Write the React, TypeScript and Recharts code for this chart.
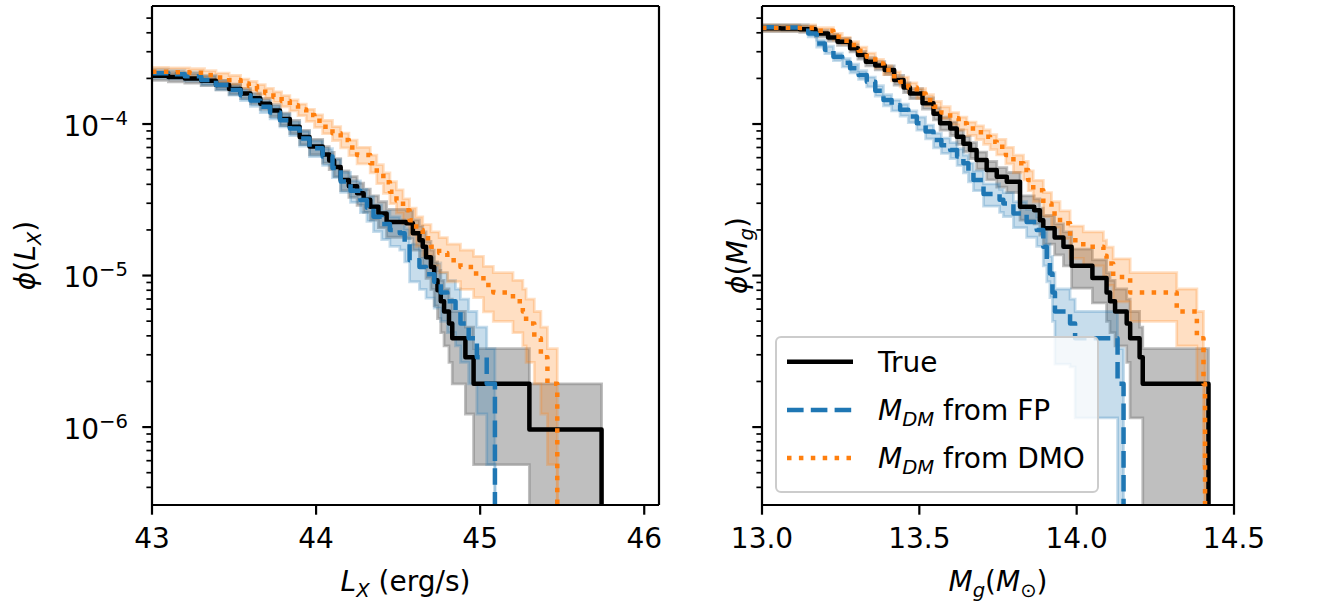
import React from 'react';
import { ComposedChart, Line, Area, XAxis, YAxis, Label, Legend, ReferenceLine } from 'recharts';

const FONT = '"DejaVu Sans", "Liberation Sans", sans-serif';
const FS = 28;
const SUB = 19.6;

const GRAY = '#808080';
const BLUE = '#1f77b4';
const ORANGE = '#ff7f0e';

// stands in for zero: lies below the log axis, so the step drops off the plot
const FLOOR = 1e-9;

const Y_DOMAIN = [3.06e-7, 6.01e-4];
const Y_MAJOR = [1e-6, 1e-5, 1e-4];
const Y_TICKS = [
  4e-7, 5e-7, 6e-7, 7e-7, 8e-7, 9e-7,
  1e-6, 2e-6, 3e-6, 4e-6, 5e-6, 6e-6, 7e-6, 8e-6, 9e-6,
  1e-5, 2e-5, 3e-5, 4e-5, 5e-5, 6e-5, 7e-5, 8e-5, 9e-5,
  1e-4, 2e-4, 3e-4, 4e-4, 5e-4,
];

const LX_DOMAIN = [43, 46.09];
const LX_TICKS = [43, 44, 45, 46];
const MG_DOMAIN = [13, 14.5];
const MG_TICKS = [13, 13.5, 14, 14.5];

// ---- left panel: L_X ----
const LX_TRUE_X = [43.0, 43.1, 43.2, 43.3, 43.39, 43.47, 43.54, 43.6, 43.66, 43.72, 43.78, 43.84, 43.9, 43.96, 44.04, 44.08, 44.11, 44.15, 44.2, 44.25, 44.29, 44.33, 44.38, 44.43, 44.55, 44.59, 44.63, 44.65, 44.67, 44.7, 44.72, 44.74, 44.76, 44.78, 44.81, 44.83, 44.91, 44.96, 45.3, 45.74];
const LX_TRUE_Y = [2.08e-4, 2.04e-4, 2.0e-4, 1.93e-4, 1.81e-4, 1.7e-4, 1.59e-4, 1.48e-4, 1.36e-4, 1.23e-4, 1.08e-4, 9.6e-5, 8.2e-5, 7.1e-5, 6.3e-5, 5.75e-5, 5.2e-5, 4.27e-5, 3.89e-5, 3.49e-5, 3.16e-5, 2.84e-5, 2.57e-5, 2.26e-5, 2.21e-5, 1.9e-5, 1.71e-5, 1.55e-5, 1.32e-5, 1.14e-5, 9.3e-6, 8.0e-6, 6.76e-6, 5.79e-6, 4.82e-6, 3.86e-6, 2.89e-6, 1.93e-6, 9.65e-7, FLOOR];
const LX_TRUE_LO = [1.94e-4, 1.9e-4, 1.86e-4, 1.79e-4, 1.68e-4, 1.57e-4, 1.47e-4, 1.36e-4, 1.25e-4, 1.12e-4, 9.78e-5, 8.64e-5, 7.31e-5, 6.27e-5, 5.52e-5, 5.01e-5, 4.49e-5, 3.63e-5, 3.28e-5, 2.91e-5, 2.61e-5, 2.32e-5, 2.07e-5, 1.79e-5, 1.75e-5, 1.47e-5, 1.3e-5, 1.16e-5, 9.6e-6, 8.1e-6, 6.3e-6, 5.2e-6, 4.2e-6, 3.43e-6, 2.67e-6, 1.93e-6, 1.22e-6, 5.65e-7, FLOOR, FLOOR];
const LX_TRUE_HI = [2.22e-4, 2.18e-4, 2.14e-4, 2.07e-4, 1.94e-4, 1.83e-4, 1.71e-4, 1.6e-4, 1.47e-4, 1.34e-4, 1.18e-4, 1.056e-4, 9.09e-5, 7.93e-5, 7.08e-5, 6.49e-5, 5.91e-5, 4.91e-5, 4.5e-5, 4.07e-5, 3.71e-5, 3.36e-5, 3.07e-5, 2.73e-5, 2.67e-5, 2.33e-5, 2.12e-5, 1.94e-5, 1.68e-5, 1.47e-5, 1.23e-5, 1.08e-5, 9.3e-6, 8.15e-6, 6.98e-6, 5.79e-6, 4.56e-6, 3.29e-6, 1.93e-6, FLOOR];

const LX_FP_X = [43.0, 43.1, 43.2, 43.3, 43.39, 43.47, 43.54, 43.6, 43.66, 43.72, 43.78, 43.84, 43.9, 43.96, 44.04, 44.1, 44.15, 44.21, 44.27, 44.31, 44.35, 44.4, 44.45, 44.51, 44.54, 44.57, 44.63, 44.67, 44.72, 44.76, 44.8, 44.85, 44.88, 44.93, 44.98, 45.04, 45.09];
const LX_FP_Y = [2.16e-4, 2.13e-4, 2.07e-4, 1.95e-4, 1.81e-4, 1.68e-4, 1.55e-4, 1.43e-4, 1.3e-4, 1.19e-4, 1.06e-4, 9.33e-5, 8.04e-5, 6.92e-5, 6.1e-5, 5.13e-5, 4.17e-5, 3.63e-5, 3.15e-5, 2.8e-5, 2.44e-5, 2.19e-5, 2.0e-5, 1.9e-5, 1.63e-5, 1.26e-5, 1.14e-5, 1.02e-5, 9.1e-6, 7.72e-6, 6.76e-6, 5.79e-6, 4.82e-6, 3.86e-6, 2.89e-6, 1.93e-6, FLOOR];
const LX_FP_LO = [2.02e-4, 1.99e-4, 1.93e-4, 1.81e-4, 1.68e-4, 1.55e-4, 1.43e-4, 1.31e-4, 1.19e-4, 1.08e-4, 9.59e-5, 8.38e-5, 7.16e-5, 6.1e-5, 5.33e-5, 4.43e-5, 3.54e-5, 3.04e-5, 2.6e-5, 2.28e-5, 1.95e-5, 1.73e-5, 1.56e-5, 1.47e-5, 1.23e-5, 9.1e-6, 8.1e-6, 7.1e-6, 6.1e-6, 4.99e-6, 4.2e-6, 3.43e-6, 2.67e-6, 1.93e-6, 1.22e-6, 5.65e-7, FLOOR];
const LX_FP_HI = [2.3e-4, 2.27e-4, 2.21e-4, 2.09e-4, 1.94e-4, 1.81e-4, 1.67e-4, 1.55e-4, 1.41e-4, 1.3e-4, 1.16e-4, 1.028e-4, 8.92e-5, 7.74e-5, 6.87e-5, 5.83e-5, 4.8e-5, 4.22e-5, 3.7e-5, 3.32e-5, 2.93e-5, 2.65e-5, 2.44e-5, 2.33e-5, 2.03e-5, 1.61e-5, 1.47e-5, 1.33e-5, 1.21e-5, 1.045e-5, 9.3e-6, 8.15e-6, 6.98e-6, 5.79e-6, 4.56e-6, 3.29e-6, FLOOR];

const LX_DMO_X = [43.0, 43.1, 43.23, 43.32, 43.39, 43.47, 43.54, 43.59, 43.64, 43.69, 43.74, 43.79, 43.84, 43.89, 43.94, 43.99, 44.04, 44.1, 44.15, 44.2, 44.25, 44.33, 44.37, 44.41, 44.45, 44.49, 44.53, 44.57, 44.61, 44.65, 44.7, 44.75, 44.8, 44.88, 44.96, 45.02, 45.08, 45.2, 45.26, 45.28, 45.33, 45.37, 45.41, 45.47];
const LX_DMO_Y = [2.21e-4, 2.2e-4, 2.18e-4, 2.11e-4, 2.03e-4, 1.95e-4, 1.85e-4, 1.78e-4, 1.69e-4, 1.6e-4, 1.51e-4, 1.42e-4, 1.33e-4, 1.245e-4, 1.145e-4, 1.05e-4, 9.6e-5, 8.7e-5, 7.83e-5, 7.0e-5, 6.24e-5, 5.5e-5, 4.72e-5, 4.12e-5, 3.57e-5, 3.13e-5, 2.7e-5, 2.32e-5, 2.0e-5, 1.76e-5, 1.55e-5, 1.41e-5, 1.26e-5, 1.14e-5, 1.03e-5, 8.65e-6, 7.72e-6, 6.76e-6, 5.79e-6, 4.82e-6, 3.86e-6, 2.89e-6, 1.93e-6, FLOOR];
const LX_DMO_LO = [2.06e-4, 2.05e-4, 2.04e-4, 1.97e-4, 1.89e-4, 1.81e-4, 1.72e-4, 1.65e-4, 1.56e-4, 1.48e-4, 1.39e-4, 1.3e-4, 1.22e-4, 1.135e-4, 1.04e-4, 9.49e-5, 8.64e-5, 7.78e-5, 6.96e-5, 6.18e-5, 5.46e-5, 4.77e-5, 4.04e-5, 3.49e-5, 2.98e-5, 2.58e-5, 2.19e-5, 1.85e-5, 1.56e-5, 1.35e-5, 1.16e-5, 1.04e-5, 9.1e-6, 8.1e-6, 7.15e-6, 5.76e-6, 4.99e-6, 4.2e-6, 3.43e-6, 2.67e-6, 1.93e-6, 1.22e-6, 5.65e-7, FLOOR];
const LX_DMO_HI = [2.36e-4, 2.35e-4, 2.32e-4, 2.25e-4, 2.17e-4, 2.09e-4, 1.98e-4, 1.91e-4, 1.82e-4, 1.72e-4, 1.63e-4, 1.54e-4, 1.44e-4, 1.355e-4, 1.25e-4, 1.15e-4, 1.056e-4, 9.62e-5, 8.7e-5, 7.82e-5, 7.02e-5, 6.23e-5, 5.39e-5, 4.75e-5, 4.16e-5, 3.68e-5, 3.21e-5, 2.79e-5, 2.44e-5, 2.17e-5, 1.94e-5, 1.78e-5, 1.61e-5, 1.47e-5, 1.34e-5, 1.15e-5, 1.045e-5, 9.3e-6, 8.15e-6, 6.98e-6, 5.79e-6, 4.56e-6, 3.29e-6, FLOOR];

// ---- right panel: M_g ----
const MG_TRUE_X = [13.0, 13.06, 13.12, 13.17, 13.21, 13.24, 13.28, 13.305, 13.33, 13.36, 13.39, 13.42, 13.45, 13.47, 13.51, 13.545, 13.566, 13.598, 13.619, 13.64, 13.661, 13.682, 13.714, 13.746, 13.778, 13.82, 13.865, 13.883, 13.894, 13.93, 13.958, 13.984, 14.05, 14.095, 14.106, 14.122, 14.159, 14.17, 14.2, 14.21, 14.419];
const MG_TRUE_Y = [4.28e-4, 4.27e-4, 4.22e-4, 3.96e-4, 3.72e-4, 3.49e-4, 3.16e-4, 2.85e-4, 2.58e-4, 2.43e-4, 2.27e-4, 1.95e-4, 1.74e-4, 1.59e-4, 1.37e-4, 1.17e-4, 1.01e-4, 9.35e-5, 8.24e-5, 7.41e-5, 6.73e-5, 5.78e-5, 4.97e-5, 4.49e-5, 4.16e-5, 2.84e-5, 2.7e-5, 2.32e-5, 2.05e-5, 1.78e-5, 1.55e-5, 1.16e-5, 9.65e-6, 7.72e-6, 6.76e-6, 5.79e-6, 4.82e-6, 3.86e-6, 2.89e-6, 1.93e-6, FLOOR];
const MG_TRUE_LO = [4.08e-4, 4.07e-4, 4.02e-4, 3.76e-4, 3.53e-4, 3.31e-4, 2.99e-4, 2.68e-4, 2.42e-4, 2.28e-4, 2.12e-4, 1.81e-4, 1.61e-4, 1.47e-4, 1.255e-4, 1.064e-4, 9.11e-5, 8.4e-5, 7.35e-5, 6.56e-5, 5.92e-5, 5.03e-5, 4.28e-5, 3.83e-5, 3.53e-5, 2.32e-5, 2.19e-5, 1.85e-5, 1.61e-5, 1.37e-5, 1.16e-5, 8.25e-6, 6.6e-6, 4.99e-6, 4.2e-6, 3.43e-6, 2.67e-6, 1.15e-6, 1.15e-6, FLOOR, FLOOR];
const MG_TRUE_HI = [4.48e-4, 4.47e-4, 4.42e-4, 4.16e-4, 3.91e-4, 3.67e-4, 3.33e-4, 3.02e-4, 2.74e-4, 2.58e-4, 2.42e-4, 2.09e-4, 1.87e-4, 1.71e-4, 1.485e-4, 1.28e-4, 1.109e-4, 1.03e-4, 9.13e-5, 8.26e-5, 7.54e-5, 6.53e-5, 5.66e-5, 5.15e-5, 4.79e-5, 3.36e-5, 3.21e-5, 2.79e-5, 2.49e-5, 2.19e-5, 1.94e-5, 1.495e-5, 1.27e-5, 1.045e-5, 9.3e-6, 8.15e-6, 6.98e-6, 5.79e-6, 4.56e-6, 3.29e-6, FLOOR];

const MG_FP_X = [13.0, 13.06, 13.12, 13.147, 13.174, 13.2, 13.227, 13.255, 13.28, 13.307, 13.333, 13.36, 13.386, 13.412, 13.439, 13.465, 13.492, 13.52, 13.545, 13.57, 13.598, 13.62, 13.64, 13.656, 13.672, 13.704, 13.755, 13.767, 13.799, 13.841, 13.873, 13.894, 13.905, 13.915, 13.923, 13.931, 13.979, 13.995, 14.13, 14.149];
const MG_FP_Y = [4.35e-4, 4.34e-4, 4.32e-4, 3.96e-4, 3.4e-4, 3.09e-4, 2.78e-4, 2.54e-4, 2.33e-4, 2.11e-4, 1.9e-4, 1.66e-4, 1.44e-4, 1.33e-4, 1.24e-4, 1.12e-4, 1.01e-4, 8.91e-5, 7.83e-5, 7.24e-5, 6.73e-5, 6.1e-5, 5.5e-5, 4.84e-5, 4.27e-5, 3.45e-5, 3.16e-5, 2.99e-5, 2.57e-5, 2.26e-5, 2.0e-5, 1.55e-5, 1.26e-5, 1.03e-5, 7.72e-6, 5.79e-6, 4.82e-6, 3.86e-6, 1.93e-6, FLOOR];
const MG_FP_LO = [4.15e-4, 4.14e-4, 4.12e-4, 3.76e-4, 3.22e-4, 2.92e-4, 2.62e-4, 2.38e-4, 2.18e-4, 1.97e-4, 1.76e-4, 1.53e-4, 1.32e-4, 1.22e-4, 1.13e-4, 1.02e-4, 9.11e-5, 7.98e-5, 6.96e-5, 6.4e-5, 5.92e-5, 5.33e-5, 4.77e-5, 4.16e-5, 3.63e-5, 2.87e-5, 2.61e-5, 2.45e-5, 2.07e-5, 1.79e-5, 1.56e-5, 1.16e-5, 9.1e-6, 7.15e-6, 4.99e-6, 2.6e-6, 2.5e-6, 1.15e-6, FLOOR, FLOOR];
const MG_FP_HI = [4.55e-4, 4.54e-4, 4.52e-4, 4.16e-4, 3.58e-4, 3.26e-4, 2.94e-4, 2.7e-4, 2.48e-4, 2.25e-4, 2.04e-4, 1.79e-4, 1.56e-4, 1.44e-4, 1.35e-4, 1.22e-4, 1.11e-4, 9.84e-5, 8.7e-5, 8.08e-5, 7.54e-5, 6.87e-5, 6.23e-5, 5.52e-5, 4.91e-5, 4.03e-5, 3.71e-5, 3.53e-5, 3.07e-5, 2.73e-5, 2.44e-5, 1.94e-5, 1.61e-5, 1.34e-5, 1.045e-5, 8.15e-6, 6.98e-6, 5.79e-6, 3.29e-6, FLOOR];

const MG_DMO_X = [13.0, 13.12, 13.17, 13.227, 13.255, 13.28, 13.307, 13.333, 13.36, 13.386, 13.412, 13.439, 13.465, 13.492, 13.52, 13.545, 13.57, 13.598, 13.625, 13.651, 13.68, 13.704, 13.725, 13.746, 13.775, 13.799, 13.831, 13.846, 13.862, 13.894, 13.92, 13.947, 13.979, 14.021, 14.085, 14.095, 14.116, 14.17, 14.318, 14.382, 14.403, 14.408];
const MG_DMO_Y = [4.32e-4, 4.31e-4, 4.12e-4, 3.77e-4, 3.55e-4, 3.32e-4, 3.05e-4, 2.78e-4, 2.51e-4, 2.27e-4, 2.07e-4, 1.9e-4, 1.74e-4, 1.59e-4, 1.44e-4, 1.3e-4, 1.19e-4, 1.09e-4, 1.01e-4, 9.35e-5, 8.81e-5, 8.24e-5, 7.64e-5, 7.08e-5, 6.24e-5, 5.5e-5, 4.97e-5, 4.27e-5, 3.66e-5, 2.99e-5, 2.57e-5, 2.21e-5, 1.71e-5, 1.55e-5, 1.35e-5, 1.2e-5, 9.8e-6, 7.72e-6, 5.79e-6, 3.86e-6, 1.93e-6, FLOOR];
const MG_DMO_LO = [4.12e-4, 4.11e-4, 3.92e-4, 3.58e-4, 3.37e-4, 3.14e-4, 2.88e-4, 2.62e-4, 2.35e-4, 2.12e-4, 1.93e-4, 1.76e-4, 1.61e-4, 1.47e-4, 1.32e-4, 1.19e-4, 1.08e-4, 9.87e-5, 9.11e-5, 8.4e-5, 7.89e-5, 7.35e-5, 6.78e-5, 6.25e-5, 5.46e-5, 4.77e-5, 4.28e-5, 3.63e-5, 3.07e-5, 2.45e-5, 2.07e-5, 1.75e-5, 1.3e-5, 1.16e-5, 9.9e-6, 8.6e-6, 6.7e-6, 4.99e-6, 3.43e-6, 1.93e-6, 5.65e-7, FLOOR];
const MG_DMO_HI = [4.52e-4, 4.51e-4, 4.32e-4, 3.96e-4, 3.73e-4, 3.5e-4, 3.22e-4, 2.94e-4, 2.67e-4, 2.42e-4, 2.21e-4, 2.04e-4, 1.87e-4, 1.71e-4, 1.56e-4, 1.41e-4, 1.3e-4, 1.19e-4, 1.11e-4, 1.03e-4, 9.73e-5, 9.13e-5, 8.5e-5, 7.91e-5, 7.02e-5, 6.23e-5, 5.66e-5, 4.91e-5, 4.25e-5, 3.53e-5, 3.07e-5, 2.67e-5, 2.12e-5, 1.94e-5, 1.71e-5, 1.54e-5, 1.29e-5, 1.045e-5, 8.15e-6, 5.79e-6, 3.29e-6, FLOOR];

type Row = { x: number; y: number; band: [number, number] };

const toRows = (xs: number[], ys: number[], lo: number[], hi: number[]): Row[] =>
  xs.map((x, i) => ({ x, y: ys[i], band: [lo[i], hi[i]] }));

interface Series {
  name: string;
  rows: Row[];
  line: string;
  fill: string;
  alpha: number;
  dash?: string;
}

const STYLE_TRUE = { line: '#000000', fill: GRAY, alpha: 0.5, dash: undefined };
const STYLE_FP = { line: BLUE, fill: BLUE, alpha: 0.25, dash: '16.6 7.2' };
const STYLE_DMO = { line: ORANGE, fill: ORANGE, alpha: 0.25, dash: '4.5 7.4' };

const LX_SERIES: Series[] = [
  { name: 'lx-true', rows: toRows(LX_TRUE_X, LX_TRUE_Y, LX_TRUE_LO, LX_TRUE_HI), ...STYLE_TRUE },
  { name: 'lx-fp', rows: toRows(LX_FP_X, LX_FP_Y, LX_FP_LO, LX_FP_HI), ...STYLE_FP },
  { name: 'lx-dmo', rows: toRows(LX_DMO_X, LX_DMO_Y, LX_DMO_LO, LX_DMO_HI), ...STYLE_DMO },
];

const MG_SERIES: Series[] = [
  { name: 'mg-true', rows: toRows(MG_TRUE_X, MG_TRUE_Y, MG_TRUE_LO, MG_TRUE_HI), ...STYLE_TRUE },
  { name: 'mg-fp', rows: toRows(MG_FP_X, MG_FP_Y, MG_FP_LO, MG_FP_HI), ...STYLE_FP },
  { name: 'mg-dmo', rows: toRows(MG_DMO_X, MG_DMO_Y, MG_DMO_LO, MG_DMO_HI), ...STYLE_DMO },
];

const LINE_W = 4.5;
const SPINE_W = 2.2;

const XTick = (props: any) => {
  const { x, y, payload, fmt } = props;
  return (
    <g>
      <line x1={x} x2={x} y1={y} y2={y + 9.7} stroke="#000" strokeWidth={SPINE_W} />
      <text x={x} y={y + 43} textAnchor="middle" fontFamily={FONT} fontSize={FS} fill="#000">
        {fmt(payload.value)}
      </text>
    </g>
  );
};

const YTick = (props: any) => {
  const { x, y, payload, showLabel } = props;
  const v = payload.value;
  const major = Y_MAJOR.includes(v);
  const exp = Math.round(Math.log10(v));
  return (
    <g>
      <line
        x1={x - (major ? 9.7 : 5.6)}
        x2={x}
        y1={y}
        y2={y}
        stroke="#000"
        strokeWidth={major ? SPINE_W : 1.7}
      />
      {major && showLabel && (
        <text x={x - 24} y={y + 11.5} textAnchor="end" fontFamily={FONT} fontSize={FS} fill="#000">
          10
          <tspan dy={-11} fontSize={SUB}>
            {(exp < 0 ? '\u2212' : '') + Math.abs(exp)}
          </tspan>
        </text>
      )}
    </g>
  );
};

const titleText = { fontFamily: FONT, fontSize: FS, fill: '#000', style: { whiteSpace: 'pre' as const } };

const LxXTitle = (props: any) => {
  const vb = props.viewBox;
  return (
    <text x={vb.x + vb.width / 2} y={vb.y + 86} textAnchor="middle" {...titleText}>
      <tspan fontStyle="italic">L</tspan>
      <tspan fontStyle="italic" fontSize={SUB} dy={6}>X</tspan>
      <tspan dy={-6}>{' (erg/s)'}</tspan>
    </text>
  );
};

const MgXTitle = (props: any) => {
  const vb = props.viewBox;
  return (
    <text x={vb.x + vb.width / 2} y={vb.y + 86} textAnchor="middle" {...titleText}>
      <tspan fontStyle="italic">M</tspan>
      <tspan fontStyle="italic" fontSize={SUB} dy={6}>g</tspan>
      <tspan dy={-6}>(</tspan>
      <tspan fontStyle="italic">M</tspan>
      <tspan fontSize={SUB} dy={6}>{'\u2299'}</tspan>
      <tspan dy={-6}>)</tspan>
    </text>
  );
};

const makeYTitle = (sym: string, sub: string, baseX: number) => (props: any) => {
  const vb = props.viewBox;
  const cy = vb.y + vb.height / 2;
  return (
    <text transform={`translate(${vb.x + baseX},${cy}) rotate(-90)`} x={0} y={0} textAnchor="middle" {...titleText}>
      <tspan fontStyle="italic">{'\u03d5'}</tspan>
      <tspan>(</tspan>
      <tspan fontStyle="italic">{sym}</tspan>
      <tspan fontStyle="italic" fontSize={SUB} dy={6}>{sub}</tspan>
      <tspan dy={-6}>)</tspan>
    </text>
  );
};

const LEGEND_ITEMS = [
  { key: 'true', ...STYLE_TRUE, math: false, text: 'True' },
  { key: 'fp', ...STYLE_FP, math: true, text: ' from FP' },
  { key: 'dmo', ...STYLE_DMO, math: true, text: ' from DMO' },
];

const renderLegend = () => (
  <svg width={326} height={159} style={{ display: 'block', overflow: 'visible' }}>
    <rect x={1} y={1} width={322} height={155} rx={5} fill="#fff" fillOpacity={0.8} stroke="#cccccc" strokeWidth={2} />
    {LEGEND_ITEMS.map((it, i) => {
      const cy = 25.7 + i * 48.2;
      return (
        <g key={it.key}>
          <line x1={12} x2={78} y1={cy} y2={cy} stroke={it.line} strokeWidth={LINE_W} strokeDasharray={it.dash} />
          <text x={103} y={cy + 10} {...titleText}>
            {it.math ? (
              <>
                <tspan fontStyle="italic">M</tspan>
                <tspan fontStyle="italic" fontSize={SUB} dy={6}>DM</tspan>
                <tspan dy={-6}>{it.text}</tspan>
              </>
            ) : (
              it.text
            )}
          </text>
        </g>
      );
    })}
  </svg>
);

interface PanelProps {
  width: number;
  yAxisWidth: number;
  marginRight: number;
  xDomain: number[];
  xTicks: number[];
  xFmt: (v: number) => string;
  showYLabels: boolean;
  xTitle: (p: any) => React.ReactNode;
  yTitle: (p: any) => React.ReactNode;
  series: Series[];
  legend?: boolean;
}

function Panel(p: PanelProps) {
  const spine = { stroke: '#000', strokeWidth: SPINE_W };
  return (
    <ComposedChart width={p.width} height={605} margin={{ top: 6, right: p.marginRight, bottom: 0, left: 0 }}>
      <XAxis
        dataKey="x"
        type="number"
        domain={p.xDomain}
        allowDataOverflow
        ticks={p.xTicks}
        interval={0}
        height={100}
        tickSize={0}
        tickMargin={0}
        tickLine={false}
        axisLine={spine}
        tick={(tp: any) => <XTick {...tp} fmt={p.xFmt} />}
      >
        <Label content={p.xTitle} />
      </XAxis>
      <YAxis
        type="number"
        scale="log"
        domain={Y_DOMAIN}
        allowDataOverflow
        ticks={Y_TICKS}
        interval={0}
        width={p.yAxisWidth}
        tickSize={0}
        tickMargin={0}
        tickLine={false}
        axisLine={spine}
        tick={(tp: any) => <YTick {...tp} showLabel={p.showYLabels} />}
      >
        <Label content={p.yTitle} />
      </YAxis>
      {p.series.flatMap((s) => [
        <Area
          key={s.name + '-band'}
          data={s.rows}
          dataKey="band"
          type="stepAfter"
          fill={s.fill}
          fillOpacity={s.alpha}
          stroke={s.fill}
          strokeOpacity={s.alpha}
          strokeWidth={2.8}
          dot={false}
          activeDot={false}
          isAnimationActive={false}
        />,
        <Line
          key={s.name + '-line'}
          data={s.rows}
          dataKey="y"
          type="stepAfter"
          stroke={s.line}
          strokeWidth={LINE_W}
          strokeDasharray={s.dash}
          strokeLinejoin="round"
          dot={false}
          activeDot={false}
          isAnimationActive={false}
        />,
      ])}
      {/* top and right spines */}
      <ReferenceLine y={Y_DOMAIN[1]} stroke="#000" strokeWidth={SPINE_W} ifOverflow="visible" />
      <ReferenceLine x={p.xDomain[1]} stroke="#000" strokeWidth={SPINE_W} ifOverflow="visible" />
      {p.legend && (
        <Legend
          layout="vertical"
          align="center"
          verticalAlign="middle"
          wrapperStyle={{ left: 95, top: 336, width: 326, height: 159 }}
          content={renderLegend}
        />
      )}
    </ComposedChart>
  );
}

export default function App() {
  return (
    <div style={{ position: 'absolute', left: 0, top: 0, width: 1320, height: 605, background: '#fff' }}>
      <div style={{ position: 'absolute', left: 0, top: 0 }}>
        <Panel
          width={680}
          yAxisWidth={152}
          marginRight={21}
          xDomain={LX_DOMAIN}
          xTicks={LX_TICKS}
          xFmt={(v) => String(v)}
          showYLabels
          xTitle={LxXTitle}
          yTitle={makeYTitle('L', 'X', 35)}
          series={LX_SERIES}
        />
      </div>
      <div style={{ position: 'absolute', left: 680, top: 0 }}>
        <Panel
          width={640}
          yAxisWidth={82}
          marginRight={86}
          xDomain={MG_DOMAIN}
          xTicks={MG_TICKS}
          xFmt={(v) => v.toFixed(1)}
          showYLabels={false}
          xTitle={MgXTitle}
          yTitle={makeYTitle('M', 'g', 67)}
          series={MG_SERIES}
          legend
        />
      </div>
    </div>
  );
}
